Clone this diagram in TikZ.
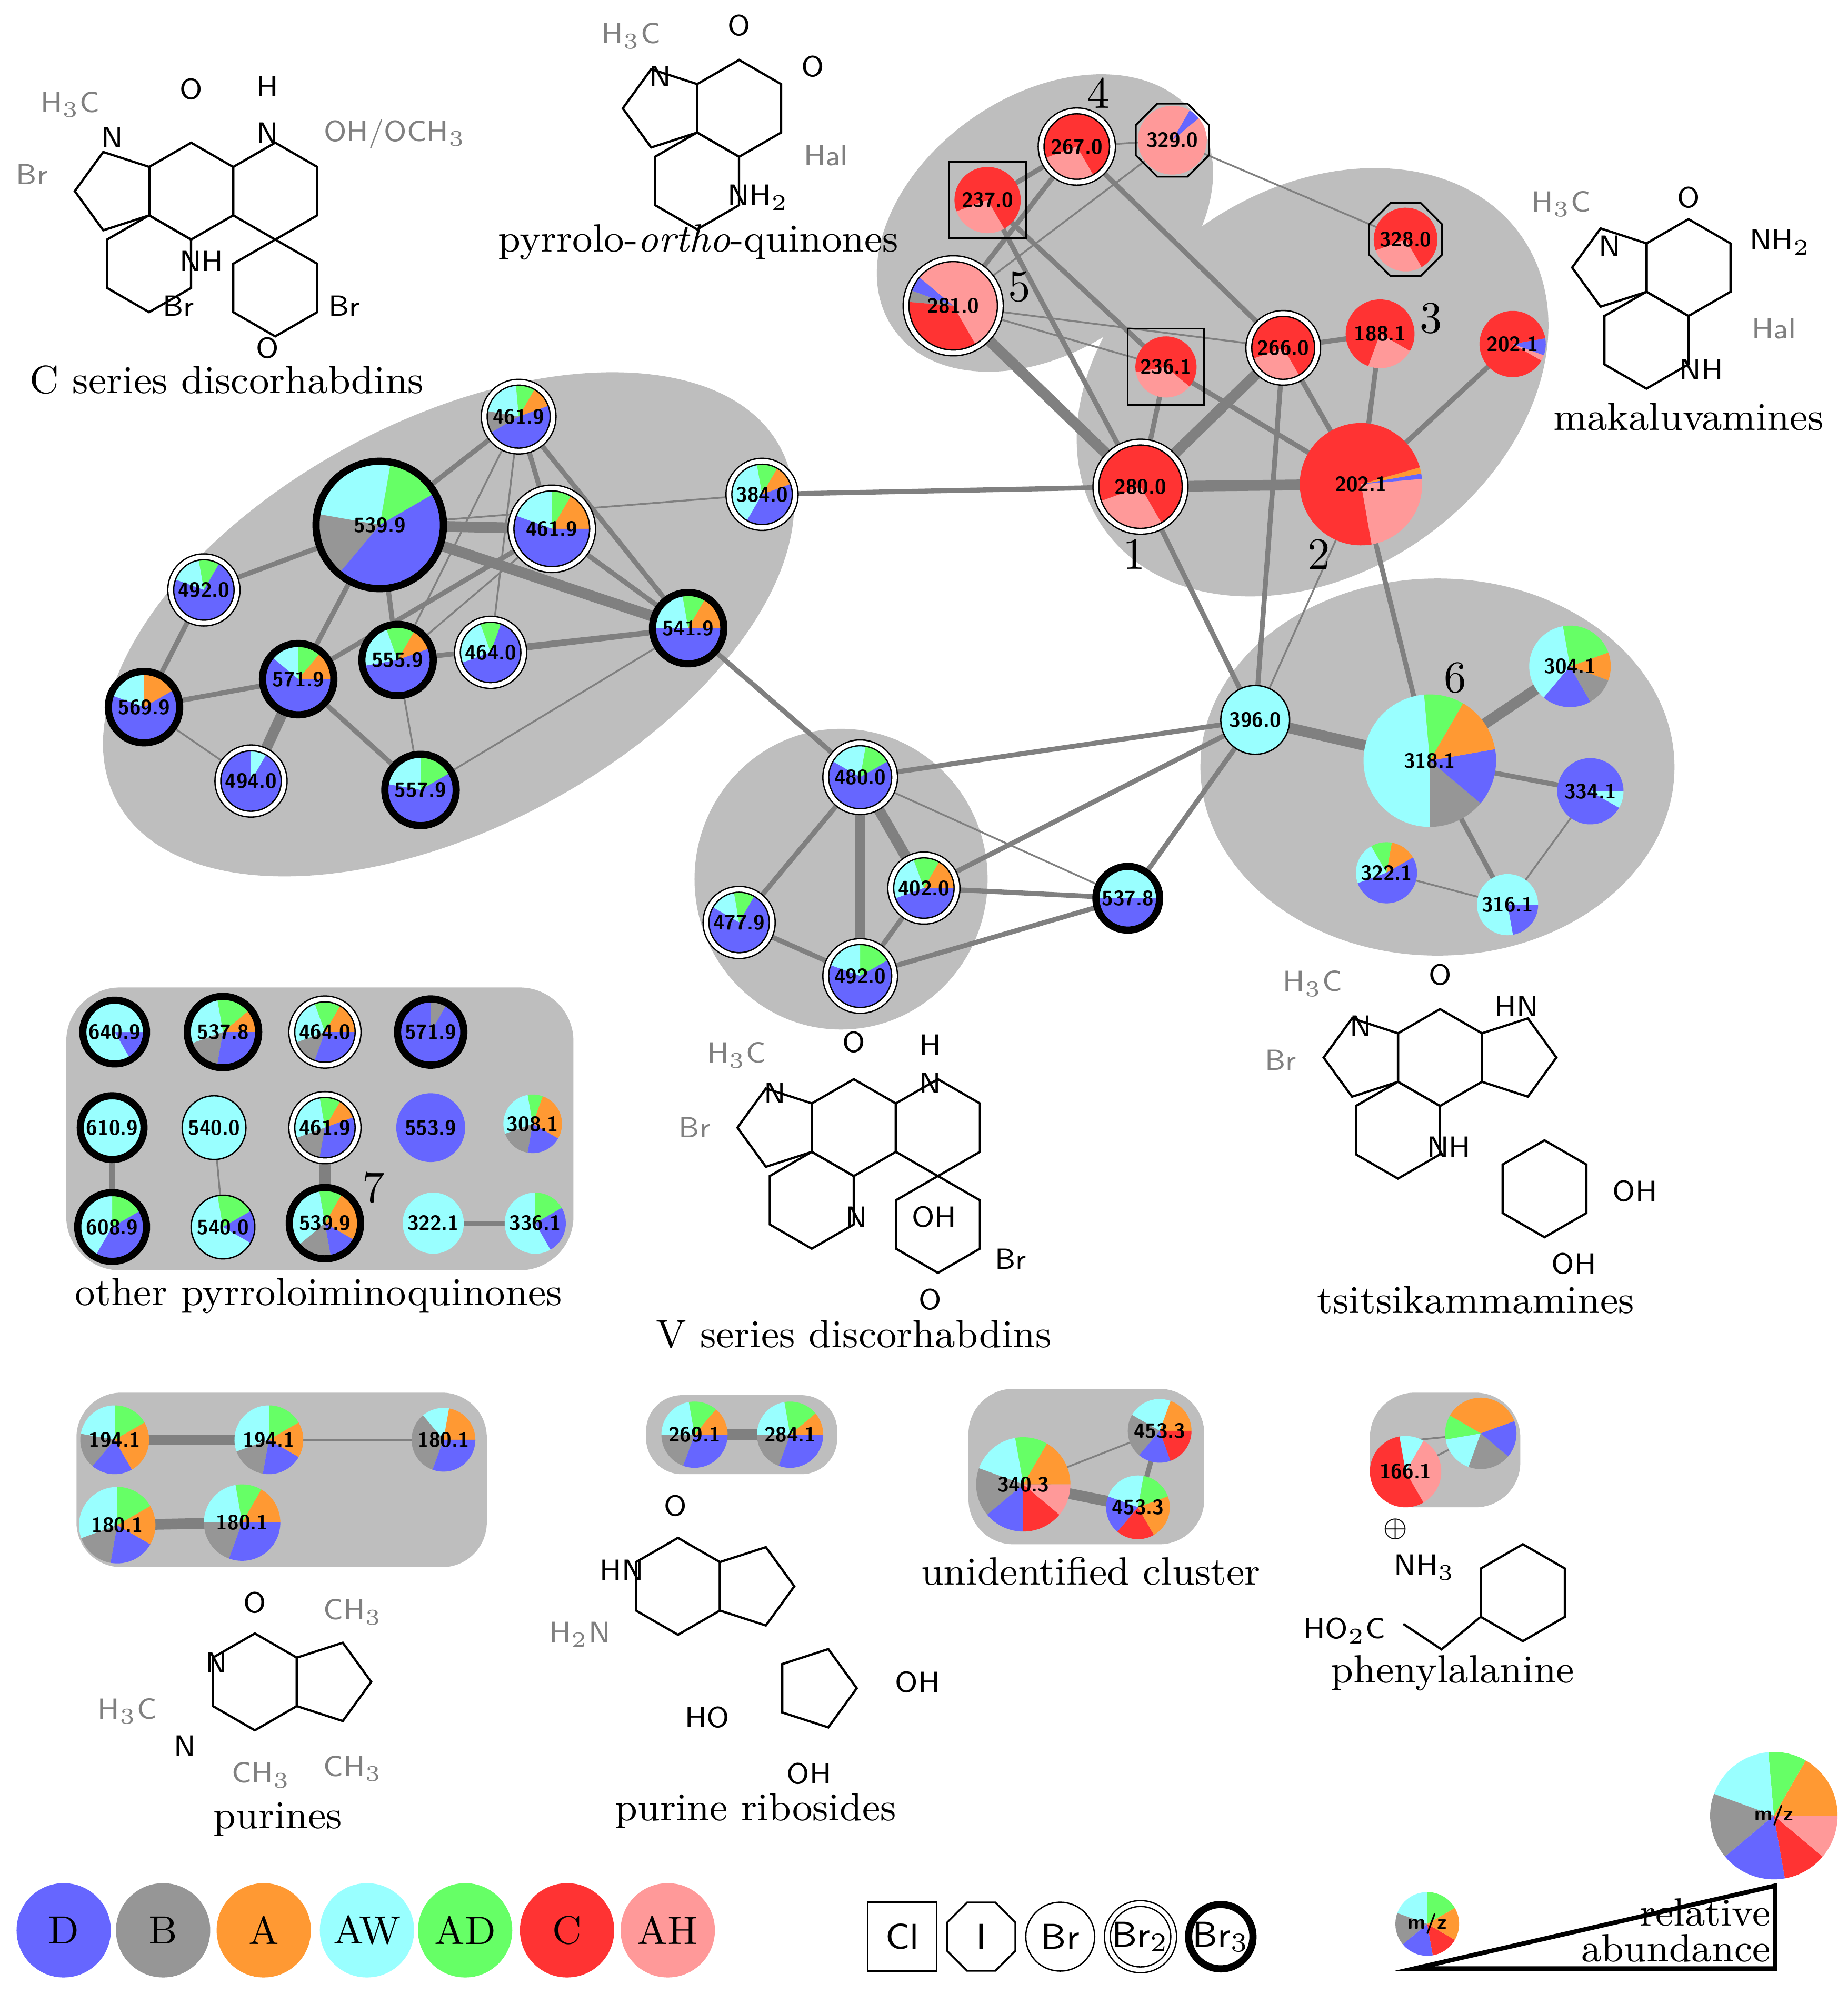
\documentclass[tikz,border=0pt]{standalone}
\usetikzlibrary{shapes.geometric}
\definecolor{cD}{RGB}{102,102,255}
\definecolor{cB}{RGB}{150,150,150}
\definecolor{cA}{RGB}{255,153,51}
\definecolor{cW}{RGB}{153,255,255}
\definecolor{cG}{RGB}{102,255,102}
\definecolor{cC}{RGB}{255,51,51}
\definecolor{cH}{RGB}{255,153,153}
\definecolor{blob}{RGB}{190,190,190}
\tikzset{
  plain/.style={draw,line width=0.3pt},
  dbl/.style={draw,double,double distance=1pt,line width=0.3pt},
  thk/.style={draw,line width=1.6pt},
  sq/.style={draw,rectangle,line width=0.4pt,minimum size=0.6cm},
  oct/.style={draw,regular polygon,regular polygon sides=8,line width=0.4pt,minimum size=0.62cm},
  thin/.style={gray,line width=0.4pt},
  mid/.style={gray,line width=1.1pt},
  fat/.style={gray,line width=2.4pt},
  mz/.style={font=\sffamily\bfseries\fontsize{4.6}{5}\selectfont},
  grp/.style={font=\fontsize{8.8}{10}\selectfont},
  num/.style={font=\fontsize{10}{11}\selectfont},
  atom/.style={font=\sffamily\fontsize{6.5}{7}\selectfont,inner sep=0.5pt},
  ring/.style={draw,regular polygon,inner sep=0,line width=0.5pt}
}
% pie: name, radius (px), label, slices, border
\newcommand\pie[5]{%
  \edef\pielist{#4}%
  \foreach \a/\b/\c in \pielist
    \fill[\c] (#1) -- ++(\a:{#2*0.01cm}) arc[start angle=\a,end angle=\b,radius={#2*0.01cm}] -- cycle;
  \node[circle,inner sep=0,minimum size={2*#2*0.01cm},#5] at (#1) {};
  \node[mz] at (#1) {#3};
}
% ring helpers: name, centre
\newcommand\hexr[2]{\node[ring,regular polygon sides=6,shape border rotate=30,minimum size=0.76cm] (#1) at (#2) {};}
\newcommand\pentl[2]{\node[ring,regular polygon sides=5,shape border rotate=90,minimum size=0.646cm] (#1) at (#2) {};}
\newcommand\pentr[2]{\node[ring,regular polygon sides=5,shape border rotate=-90,minimum size=0.646cm] (#1) at (#2) {};}
\def\mixRed{-60/200/cC,200/300/cH}
\def\mixBlue{20/60/cA,60/95/cG,95/170/cW,170/210/cB,210/380/cD}
\def\mixCyan{-90/-40/cB,-40/10/cD,10/60/cA,60/95/cG,95/270/cW}
\begin{document}
\begin{tikzpicture}[x=0.01cm,y=-0.01cm]
  \useasboundingbox (0,0) rectangle (1450,1565);

  % blobs
  \fill[blob,rotate around={35:(820,175)}] (820,175) ellipse (145 and 100);
  \fill[blob,rotate around={35:(1030,300)}] (1030,300) ellipse (200 and 150);
  \fill[blob,rotate around={28:(352,490)}] (352,490) ellipse (295 and 160);
  \fill[blob] (660,690) ellipse (115 and 118);
  \fill[blob] (1128,602) ellipse (186 and 148);
  \fill[blob,rounded corners=12] (52,775) rectangle (450,997);
  \fill[blob,rounded corners=10] (60,1093) rectangle (382,1230);
  \fill[blob,rounded corners=8] (507,1095) rectangle (657,1157);
  \fill[blob,rounded corners=10] (760,1090) rectangle (945,1212);
  \fill[blob,rounded corners=10] (1075,1093) rectangle (1193,1183);

  % positions
  \foreach \n/\p in {n267/{845,115},n329/{920,110},n237/{775,157},n281/{748,240},
      n328/{1103,188},n236/{915,288},n266/{1007,273},n188/{1083,262},n202s/{1187,270},
      n280/{895,382},n202/{1068,380},
      c539/{298,412},c461a/{407,327},c461b/{433,415},c384/{598,388},c492/{160,463},
      c541/{540,493},c555/{312,518},c464/{385,512},c571/{234,533},c569/{113,555},
      c494/{197,613},c557/{330,620},
      v480/{675,610},v402/{725,697},v478/{580,724},v492/{675,766},v538/{885,705},
      t396/{985,565},t318/{1122,597},t304/{1232,523},t334/{1248,621},t322/{1088,685},t316/{1183,710},
      o641/{90,810},o538/{175,810},o464/{255,810},o572/{338,810},
      o611/{88,885},o540a/{168,885},o462/{255,885},o554/{338,885},o308/{418,882},
      o609/{88,963},o540b/{175,963},o540c/{255,960},o322/{340,960},o336/{420,960},
      u194a/{90,1130},u194b/{211,1130},u180a/{348,1130},u180b/{92,1197},u180c/{190,1195},
      r269/{545,1126},r284/{620,1126},
      x340/{803,1165},x453a/{910,1123},x453b/{893,1183},
      f166/{1103,1155},f2/{1162,1125},
      lsmall/{1120,1510},lbig/{1392,1425}}
    \coordinate (\n) at (\p);

  % edges
  \draw[fat] (n280) -- (n202);
  \draw[fat] (n280) -- (n281);
  \draw[fat] (n280) -- (n266);
  \draw[mid] (n280) -- (n236);
  \draw[mid] (n280) -- (n237);
  \draw[mid] (n280) -- (c384);
  \draw[mid] (n280) -- (t396);
  \draw[mid] (n202) -- (n188);
  \draw[mid] (n202) -- (n202s);
  \draw[mid] (n202) -- (n236);
  \draw[mid] (n202) -- (n266);
  \draw[mid] (n202) -- (t318);
  \draw[thin] (n202) -- (t396);
  \draw[mid] (n266) -- (t396);
  \draw[mid] (n266) -- (n188);
  \draw[thin] (n266) -- (n281);
  \draw[mid] (n266) -- (n267);
  \draw[mid] (n236) -- (n237);
  \draw[thin] (n236) -- (n281);
  \draw[mid] (n267) -- (n281);
  \draw[mid] (n267) -- (n237);
  \draw[thin] (n329) -- (n328);
  \draw[thin] (n329) -- (n281);
  \draw[thin] (n329) -- (n267);
  \draw[mid] (c539) -- (c461a);
  \draw[fat] (c539) -- (c461b);
  \draw[fat] (c539) -- (c541);
  \draw[mid] (c539) -- (c492);
  \draw[mid] (c539) -- (c555);
  \draw[mid] (c539) -- (c571);
  \draw[thin] (c539) -- (c384);
  \draw[mid] (c461a) -- (c541);
  \draw[thin] (c461a) -- (c464);
  \draw[thin] (c461a) -- (c555);
  \draw[mid] (c461a) -- (c461b);
  \draw[mid] (c461b) -- (c541);
  \draw[mid] (c461b) -- (c571);
  \draw[thin] (c461b) -- (c555);
  \draw[mid] (c541) -- (c464);
  \draw[mid] (c541) -- (c555);
  \draw[thin] (c541) -- (c557);
  \draw[mid] (c541) -- (v480);
  \draw[mid] (c571) -- (c569);
  \draw[fat] (c571) -- (c494);
  \draw[mid] (c571) -- (c557);
  \draw[thin] (c555) -- (c557);
  \draw[mid] (c492) -- (c569);
  \draw[thin] (c569) -- (c494);
  \draw[mid] (v480) -- (v478);
  \draw[fat] (v480) -- (v492);
  \draw[fat] (v480) -- (v402);
  \draw[thin] (v480) -- (v538);
  \draw[mid] (v480) -- (t396);
  \draw[mid] (v402) -- (v538);
  \draw[mid] (v402) -- (t396);
  \draw[mid] (v478) -- (v492);
  \draw[mid] (v492) -- (v402);
  \draw[mid] (v492) -- (v538);
  \draw[mid] (v538) -- (t396);
  \draw[fat] (t396) -- (t318);
  \draw[fat] (t318) -- (t304);
  \draw[mid] (t318) -- (t334);
  \draw[mid] (t318) -- (t316);
  \draw[thin] (t316) -- (t334);
  \draw[thin] (t322) -- (t316);
  \draw[mid] (o611) -- (o609);
  \draw[thin] (o540a) -- (o540b);
  \draw[fat] (o462) -- (o540c);
  \draw[mid] (o322) -- (o336);
  \draw[fat] (u194a) -- (u194b);
  \draw[thin] (u194b) -- (u180a);
  \draw[fat] (u180b) -- (u180c);
  \draw[fat] (r269) -- (r284);
  \draw[thin] (x340) -- (x453a);
  \draw[fat] (x340) -- (x453b);
  \draw[mid] (x453a) -- (x453b);
  \draw[thin] (f166) -- (f2);
  \draw[thin] ([shift={(10,-25)}]f166) -- (f2);

  % red cluster
  \pie{n267}{28}{267.0}{\mixRed}{dbl}
  \pie{n329}{27}{329.0}{-40/40/cH,40/60/cD,60/320/cH}{oct}
  \pie{n237}{26}{237.0}{\mixRed}{sq}
  \pie{n281}{37}{281.0}{-60/140/cH,140/160/cD,160/175/cB,175/300/cC}{dbl}
  \pie{n328}{25}{328.0}{\mixRed}{oct}
  \pie{n236}{24}{236.1}{-40/190/cC,190/320/cH}{sq}
  \pie{n266}{27}{266.0}{-60/200/cC,200/300/cH}{dbl}
  \pie{n188}{27}{188.1}{-30/250/cC,250/330/cH}{draw=none}
  \pie{n202s}{26}{202.1}{-20/10/cD,10/330/cC,330/340/cH}{draw=none}
  \pie{n280}{35}{280.0}{-60/200/cC,200/300/cH}{dbl}
  \pie{n202}{48}{202.1}{-80/5/cH,5/10/cD,10/16/cA,16/280/cC}{draw=none}

  % C series
  \pie{c539}{50}{539.9}{30/80/cG,80/170/cW,170/230/cB,230/390/cD}{thk}
  \pie{c461a}{27}{461.9}{\mixBlue}{dbl}
  \pie{c461b}{32}{461.9}{0/60/cA,60/90/cG,90/160/cW,160/360/cD}{dbl}
  \pie{c384}{26}{384.0}{20/60/cA,60/100/cG,100/240/cW,240/380/cD}{dbl}
  \pie{c492}{26}{492.0}{60/100/cG,100/160/cW,160/420/cD}{dbl}
  \pie{c541}{28}{541.9}{0/60/cA,60/100/cG,100/180/cW,180/360/cD}{thk}
  \pie{c555}{28}{555.9}{20/60/cA,60/110/cG,110/190/cW,190/380/cD}{thk}
  \pie{c464}{26}{464.0}{70/110/cG,110/200/cW,200/430/cD}{dbl}
  \pie{c571}{28}{571.9}{0/50/cA,50/90/cG,90/140/cW,140/360/cD}{thk}
  \pie{c569}{28}{569.9}{30/90/cA,90/160/cW,160/390/cD}{thk}
  \pie{c494}{26}{494.0}{60/90/cW,90/420/cD}{dbl}
  \pie{c557}{28}{557.9}{30/90/cG,90/170/cW,170/390/cD}{thk}

  % V series
  \pie{v480}{27}{480.0}{30/80/cG,80/150/cW,150/390/cD}{dbl}
  \pie{v402}{26}{402.0}{0/60/cA,60/110/cG,110/200/cW,200/360/cD}{dbl}
  \pie{v478}{26}{477.9}{60/100/cG,100/150/cW,150/420/cD}{dbl}
  \pie{v492}{27}{492.0}{30/90/cG,90/160/cW,160/390/cD}{dbl}
  \pie{v538}{25}{537.8}{0/180/cW,180/360/cD}{thk}

  % tsitsikammamines
  \pie{t396}{27}{396.0}{0/360/cW}{plain}
  \pie{t318}{52}{318.1}{\mixCyan}{draw=none}
  \pie{t304}{32}{304.1}{-20/20/cA,20/100/cG,100/230/cW,230/300/cD,300/340/cB}{draw=none}
  \pie{t334}{26}{334.1}{0/330/cD,330/360/cW}{draw=none}
  \pie{t322}{24}{322.1}{30/80/cA,80/120/cG,120/200/cW,200/390/cD}{draw=none}
  \pie{t316}{24}{316.1}{-80/0/cD,0/280/cW}{draw=none}

  % other pyrroloiminoquinones
  \pie{o641}{25}{640.9}{-60/0/cD,0/300/cW}{thk}
  \pie{o538}{28}{537.8}{0/40/cA,40/100/cG,100/200/cW,200/260/cB,260/360/cD}{thk}
  \pie{o464}{26}{464.0}{0/60/cA,60/110/cG,110/200/cW,200/250/cB,250/360/cD}{dbl}
  \pie{o572}{26}{571.9}{60/90/cB,90/420/cD}{thk}
  \pie{o611}{25}{610.9}{0/360/cW}{thk}
  \pie{o540a}{25}{540.0}{0/360/cW}{plain}
  \pie{o462}{26}{461.9}{20/60/cA,60/100/cG,100/200/cW,200/260/cB,260/380/cD}{dbl}
  \pie{o554}{27}{553.9}{0/360/cD}{draw=none}
  \pie{o308}{23}{308.1}{-30/70/cA,70/100/cG,100/200/cW,200/260/cB,260/330/cD}{draw=none}
  \pie{o609}{27}{608.9}{30/90/cG,90/240/cW,240/390/cD}{thk}
  \pie{o540b}{25}{540.0}{30/100/cG,100/330/cW,330/390/cD}{plain}
  \pie{o540c}{28}{539.9}{-30/60/cA,60/100/cG,100/220/cW,220/280/cB,280/330/cD}{thk}
  \pie{o322}{24}{322.1}{0/360/cW}{draw=none}
  \pie{o336}{24}{336.1}{30/90/cG,90/300/cW,300/390/cD}{draw=none}

  % purines etc.
  \pie{u194a}{27}{194.1}{30/90/cG,90/170/cW,170/230/cB,230/300/cD,300/390/cA}{draw=none}
  \pie{u194b}{27}{194.1}{30/90/cG,90/200/cW,200/260/cB,260/330/cD,330/390/cA}{draw=none}
  \pie{u180a}{25}{180.1}{0/80/cA,80/130/cW,130/250/cB,250/360/cD}{draw=none}
  \pie{u180b}{30}{180.1}{30/90/cG,90/200/cW,200/260/cB,260/330/cD,330/390/cA}{draw=none}
  \pie{u180c}{30}{180.1}{0/60/cA,60/100/cG,100/180/cW,180/250/cB,250/360/cD}{draw=none}
  \pie{r269}{26}{269.1}{0/50/cA,50/100/cG,100/180/cW,180/250/cB,250/360/cD}{draw=none}
  \pie{r284}{26}{284.1}{0/40/cA,40/100/cG,100/180/cW,180/250/cB,250/360/cD}{draw=none}
  \pie{x340}{37}{340.3}{0/60/cA,60/100/cG,100/160/cW,160/220/cB,220/270/cD,270/320/cC,320/360/cH}{draw=none}
  \pie{x453a}{25}{453.3}{0/70/cA,70/150/cW,150/230/cB,230/290/cD,290/360/cC}{draw=none}
  \pie{x453b}{25}{453.3}{20/80/cG,80/160/cW,160/230/cD,230/300/cC,300/380/cA}{draw=none}
  \pie{f166}{28}{166.1}{-60/60/cH,60/100/cW,100/300/cC}{draw=none}
  \pie{f2}{28}{}{20/150/cA,150/190/cG,190/250/cW,250/320/cB,320/380/cD}{draw=none}

  % cluster numbers
  \node[num] at (862,73) {4};
  \node[num] at (800,225) {5};
  \node[num] at (1123,250) {3};
  \node[num] at (890,435) {1};
  \node[num] at (1035,435) {2};
  \node[num] at (1142,532) {6};
  \node[num] at (293,932) {7};

  % structures (simplified ring skeletons)
  \hexr{sC1}{150,150} \hexr{sC2}{117,207} \pentl{sC3}{91,150} \hexr{sC4}{216,150} \hexr{sC5}{216,226}
  \node[atom] at (150,70) {O};
  \node[atom] at (88,108) {N};
  \node[atom,gray] at (55,82) {H$_3$C};
  \node[atom,gray] at (25,137) {Br};
  \node[atom] at (210,68) {H};
  \node[atom] at (210,104) {N};
  \node[atom,gray] at (310,105) {OH/OCH$_3$};
  \node[atom] at (158,205) {NH};
  \node[atom] at (140,240) {Br};
  \node[atom] at (270,240) {Br};
  \node[atom] at (210,273) {O};

  \hexr{sP1}{580,85} \hexr{sP2}{547,142} \pentl{sP3}{521,85}
  \node[atom] at (580,20) {O};
  \node[atom] at (638,52) {O};
  \node[atom] at (518,60) {N};
  \node[atom,gray] at (495,28) {H$_3$C};
  \node[atom,gray] at (648,122) {Hal};
  \node[atom] at (595,155) {NH$_2$};

  \hexr{sM1}{1325,210} \hexr{sM2}{1292,267} \pentl{sM3}{1266,210}
  \node[atom] at (1325,155) {O};
  \node[atom] at (1263,193) {N};
  \node[atom,gray] at (1225,160) {H$_3$C};
  \node[atom] at (1397,190) {NH$_2$};
  \node[atom,gray] at (1392,258) {Hal};
  \node[atom] at (1335,290) {NH};

  \hexr{sV1}{670,885} \hexr{sV2}{637,942} \pentl{sV3}{611,885} \hexr{sV4}{736,885} \hexr{sV5}{736,961}
  \node[atom] at (670,818) {O};
  \node[atom] at (608,858) {N};
  \node[atom,gray] at (578,828) {H$_3$C};
  \node[atom,gray] at (545,885) {Br};
  \node[atom] at (730,820) {H};
  \node[atom] at (730,850) {N};
  \node[atom] at (733,955) {OH};
  \node[atom] at (672,955) {N};
  \node[atom] at (793,988) {Br};
  \node[atom] at (730,1020) {O};

  \hexr{sT1}{1130,830} \hexr{sT2}{1097,887} \pentl{sT3}{1071,830} \pentr{sT4}{1189,830} \hexr{sT5}{1212,933}
  \node[atom] at (1130,765) {O};
  \node[atom] at (1068,805) {N};
  \node[atom,gray] at (1030,772) {H$_3$C};
  \node[atom,gray] at (1005,832) {Br};
  \node[atom] at (1190,790) {HN};
  \node[atom] at (1137,900) {NH};
  \node[atom] at (1283,935) {OH};
  \node[atom] at (1235,992) {OH};

  \hexr{sU1}{200,1320} \pentr{sU2}{259,1320}
  \node[atom] at (200,1258) {O};
  \node[atom] at (170,1305) {N};
  \node[atom,gray] at (100,1343) {H$_3$C};
  \node[atom] at (145,1370) {N};
  \node[atom,gray] at (205,1393) {CH$_3$};
  \node[atom,gray] at (277,1265) {CH$_3$};
  \node[atom,gray] at (277,1388) {CH$_3$};

  \hexr{sR1}{532,1245} \pentr{sR2}{591,1245} \pentr{sR3}{640,1325}
  \node[atom] at (530,1182) {O};
  \node[atom] at (488,1232) {HN};
  \node[atom,gray] at (455,1283) {H$_2$N};
  \node[atom] at (720,1320) {OH};
  \node[atom] at (555,1348) {HO};
  \node[atom] at (635,1392) {OH};

  \hexr{sF1}{1195,1250}
  \draw[line width=0.5pt] (sF1.corner 3) -- ++(-30,25) coordinate (fa) -- ++(-30,-20) coordinate (fb);
  \node[atom] at (1118,1230) {NH$_3$};
  \node[atom] at (1095,1200) {$\oplus$};
  \node[atom] at (1055,1280) {HO$_2$C};

  % captions
  \node[grp] at (178,298) {C series discorhabdins};
  \node[grp] at (548,190) {pyrrolo-\emph{ortho}-quinones};
  \node[grp] at (1325,327) {makaluvamines};
  \node[grp] at (250,1017) {other pyrroloiminoquinones};
  \node[grp] at (670,1047) {V series discorhabdins};
  \node[grp] at (1158,1020) {tsitsikammamines};
  \node[grp] at (218,1428) {purines};
  \node[grp] at (593,1421) {purine ribosides};
  \node[grp] at (856,1233) {unidentified cluster};
  \node[grp] at (1140,1313) {phenylalanine};

  % legend colours
  \foreach \c/\t/\x in {cD/D/50,cB/B/128,cA/A/207,cW/AW/288,cG/AD/365,cC/C/445,cH/AH/524}{
    \fill[\c] (\x,1515) circle (37);
    \node[grp] at (\x,1515) {\t};
  }
  % legend isotopes
  \node[sq,inner sep=0,minimum size=0.54cm,font=\sffamily\footnotesize] (lcl) at (708,1520) {Cl};
  \node[oct,inner sep=0,minimum size=0.58cm,font=\sffamily\footnotesize] (li) at (770,1520) {I};
  \node[circle,plain,inner sep=0,minimum size=0.54cm,font=\sffamily\footnotesize] (lbr) at (832,1520) {Br};
  \node[circle,dbl,inner sep=0,minimum size=0.52cm,font=\sffamily\footnotesize] (lbr2) at (895,1520) {Br$_2$};
  \node[circle,thk,inner sep=0,minimum size=0.5cm,font=\sffamily\footnotesize] (lbr3) at (958,1520) {Br$_3$};

  % relative abundance
  \draw[line width=1pt] (1110,1545) -- (1393,1545) -- (1393,1480) -- cycle;
  \node[grp,align=right,anchor=east,inner sep=0] at (1390,1515) {relative\\[-2pt]abundance};
  \pie{lsmall}{25}{m/z}{30/90/cG,90/160/cW,160/220/cB,220/280/cD,280/330/cC,330/390/cA}{draw=none}
  \pie{lbig}{50}{m/z}{0/60/cA,60/95/cG,95/160/cW,160/220/cB,220/280/cD,280/320/cC,320/360/cH}{draw=none}
\end{tikzpicture}
\end{document}
